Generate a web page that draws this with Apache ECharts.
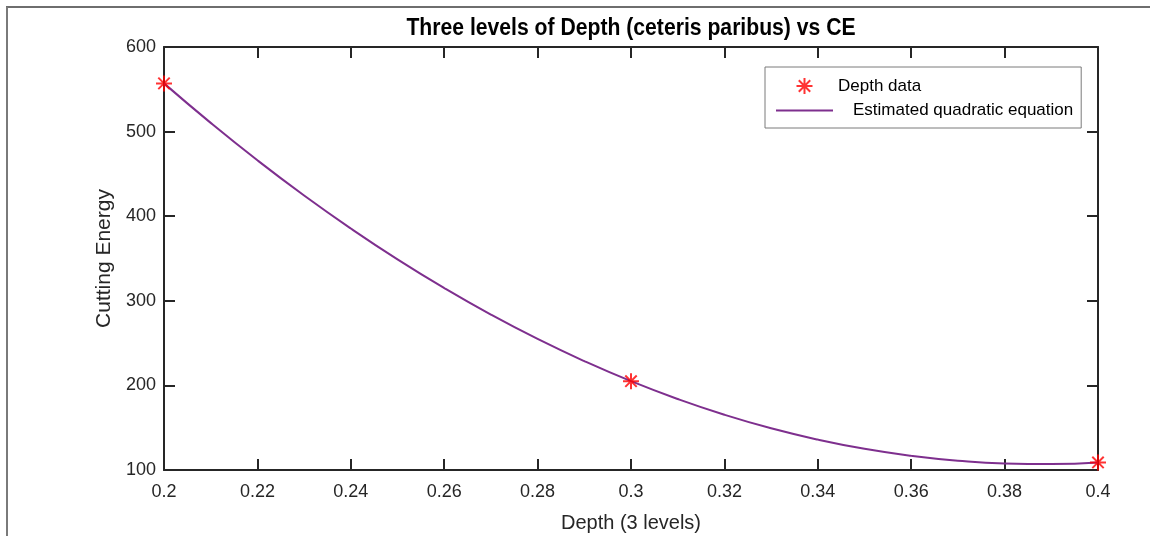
<!DOCTYPE html>
<html>
<head>
<meta charset="utf-8">
<script src="https://cdn.jsdelivr.net/npm/echarts@6/dist/echarts.min.js"></script>
<style>
html,body{margin:0;padding:0;background:#fff;}
#chart{width:1150px;height:536px;}
</style>
</head>
<body>
<div id="chart"></div>
<script>
// Measured data points
const depthX = [0.2, 0.3, 0.4];
const depthCE = [557, 205, 109];

// Estimated quadratic curve
const curveX = [0.20, 0.21, 0.22, 0.23, 0.24, 0.25, 0.26, 0.27, 0.28, 0.29, 0.30,
                0.31, 0.32, 0.33, 0.34, 0.35, 0.36, 0.37, 0.38, 0.39, 0.40];
const curveCE = [557, 510.3, 466.1, 424.5, 385.5, 349, 315.1, 283.7, 254.9, 228.7, 205,
                 183.9, 165.3, 149.3, 135.9, 125, 116.7, 110.9, 107.7, 107.1, 109];

const xTicks = [0.2, 0.22, 0.24, 0.26, 0.28, 0.3, 0.32, 0.34, 0.36, 0.38, 0.4];
const yTicks = [100, 200, 300, 400, 500, 600];

const titleText = 'Three levels of Depth (ceteris paribus) vs CE';
const xName = 'Depth (3 levels)';
const yName = 'Cutting Energy';
const seriesNames = ['Depth data', 'Estimated quadratic equation'];

const FONT = '"Liberation Sans", Arial, Helvetica, sans-serif';
const AX = '#262626';
const starPath = 'path://M0,-7L0,7M-7,0L7,0M-5,-5L5,5M-5,5L5,-5';
const lineIcon = 'path://M0,0H57V2H0Z';

const chart = echarts.init(document.getElementById('chart'));

const axisCommon = {
  axisLine: {show: true, lineStyle: {color: AX, width: 2}},
  axisTick: {show: true, inside: true, length: 11, lineStyle: {color: AX, width: 2}},
  splitLine: {show: false}
};

const option = {
  animation: false,
  backgroundColor: '#fff',
  grid: {left: 164, right: 52, top: 47, bottom: 66, containLabel: false, outerBoundsMode: 'none'},
  legend: {
    orient: 'vertical', left: 765, top: 67,
    padding: [10, 8, 9, 11], itemGap: 7,
    itemWidth: 57, itemHeight: 16,
    borderColor: '#7a7a7a', borderWidth: 1, backgroundColor: '#fff',
    textStyle: {fontFamily: FONT, fontSize: 17, color: '#000',
      rich: {b: {fontFamily: FONT, fontSize: 17, color: '#000', padding: [0, 0, 0, 15]}}},
    formatter: name => name === seriesNames[1] ? '{b|' + name + '}' : name,
    data: [
      {name: seriesNames[0]},
      {name: seriesNames[1], icon: lineIcon, itemStyle: {color: '#7e2f8e'}}
    ]
  },
  xAxis: [
    Object.assign({
      type: 'value', position: 'bottom', min: 0.2, max: 0.4, interval: 0.02,
      name: xName, nameLocation: 'middle', nameGap: 43,
      nameTextStyle: {fontFamily: FONT, fontSize: 20, color: AX},
      axisLabel: {margin: 13, fontFamily: FONT, fontSize: 18, color: AX,
        formatter: v => { const t = xTicks.find(t => Math.abs(t - v) < 1e-6); return t === undefined ? '' : String(t); }}
    }, axisCommon),
    Object.assign({
      type: 'value', position: 'top', min: 0.2, max: 0.4, interval: 0.02,
      axisLabel: {show: false}
    }, axisCommon)
  ],
  yAxis: [
    Object.assign({
      type: 'value', position: 'left', min: 100, max: 600, interval: 100,
      name: yName, nameLocation: 'middle', nameGap: 42, nameRotate: 90,
      nameTextStyle: {fontFamily: FONT, fontSize: 21, color: AX},
      axisLabel: {margin: 8, fontFamily: FONT, fontSize: 18, color: AX,
        formatter: v => { const t = yTicks.find(t => Math.abs(t - v) < 1e-6); return t === undefined ? '' : String(t); }}
    }, axisCommon),
    Object.assign({
      type: 'value', position: 'right', min: 100, max: 600, interval: 100,
      axisLabel: {show: false}
    }, axisCommon)
  ],
  graphic: [
    {type: 'line', shape: {x1: 6, y1: 7, x2: 1150, y2: 7}, style: {stroke: '#6e6e6e', lineWidth: 2}, z: 100},
    {type: 'line', shape: {x1: 7, y1: 7, x2: 7, y2: 536}, style: {stroke: '#7a7a7a', lineWidth: 2}, z: 100},
    {type: 'text', x: 631, y: 29, scaleX: 0.92, scaleY: 1, z: 100,
      style: {text: titleText, fontFamily: FONT, fontSize: 23, fontWeight: 'bold', fill: '#000',
        align: 'center', verticalAlign: 'middle'}}
  ],
  series: [
    {
      name: seriesNames[0], type: 'scatter', clip: false, z: 5,
      symbol: starPath, symbolSize: 16,
      itemStyle: {color: 'rgba(0,0,0,0)', borderColor: '#ff0000', borderWidth: 2},
      data: depthX.map((x, i) => [x, depthCE[i]])
    },
    {
      name: seriesNames[1], type: 'line', smooth: true, symbol: 'none', z: 3,
      lineStyle: {color: '#7e2f8e', width: 2},
      itemStyle: {color: '#7e2f8e'},
      data: curveX.map((x, i) => [x, curveCE[i]])
    }
  ]
};
chart.setOption(option);
</script>
</body>
</html>
